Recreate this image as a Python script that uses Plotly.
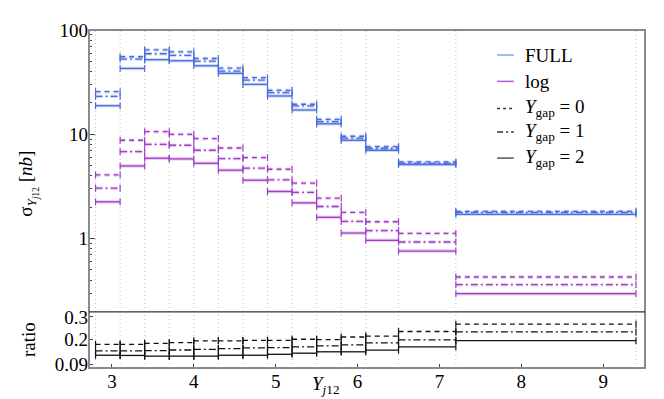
import plotly.graph_objects as go

bin_edges = [2.8, 3.1, 3.4, 3.7, 4.0, 4.3, 4.6, 4.9, 5.2, 5.5, 5.8, 6.1, 6.5, 7.2, 9.4]

full_gap0 = [25.6, 55.4, 64.6, 61.8, 53.3, 43.1, 34.9, 26.4, 19.4, 13.9, 9.58, 7.63, 5.43, 1.82]
full_gap1 = [23.1, 52.6, 59.2, 57.0, 50.2, 40.4, 33.1, 25.1, 18.7, 13.2, 9.17, 7.35, 5.28, 1.78]
full_gap2 = [18.8, 42.8, 51.9, 50.7, 45.4, 38.4, 30.1, 23.3, 17.1, 12.6, 8.76, 7.03, 5.13, 1.71]

log_gap0 = [4.08, 8.77, 10.6, 10.0, 9.1, 7.39, 5.98, 4.62, 3.40, 2.44, 1.78, 1.45, 1.12, 0.428]
log_gap1 = [3.04, 6.83, 8.02, 7.85, 7.03, 5.85, 4.73, 3.66, 2.77, 2.03, 1.46, 1.19, 0.927, 0.361]
log_gap2 = [2.25, 4.97, 5.89, 5.81, 5.27, 4.53, 3.63, 2.83, 2.20, 1.60, 1.13, 0.962, 0.759, 0.296]

ratio_gap0 = [0.180, 0.180, 0.184, 0.187, 0.195, 0.195, 0.197, 0.197, 0.202, 0.200, 0.212, 0.216, 0.236, 0.268]
ratio_gap1 = [0.151, 0.151, 0.152, 0.155, 0.158, 0.161, 0.164, 0.165, 0.169, 0.173, 0.177, 0.186, 0.199, 0.234]
ratio_gap2 = [0.132, 0.131, 0.128, 0.128, 0.128, 0.132, 0.132, 0.136, 0.141, 0.147, 0.147, 0.154, 0.169, 0.196]

x_ticks = [3, 4, 5, 6, 7, 8, 9]

BLUE = '#4a6ddb'
PURPLE = '#a23cc6'
BLACK = '#111111'
DASHES = {0: '5px,4px', 1: '7px,3px,2px,3px', 2: 'solid'}
FONT = 'Liberation Serif, DejaVu Serif, Times New Roman, serif'


def steps(vals):
    xs, ys = [], []
    for lo, hi, v in zip(bin_edges[:-1], bin_edges[1:], vals):
        xs += [lo, hi, None]
        ys += [v, v, None]
    return xs, ys


fig = go.Figure()


def add_hist(vals, color, gap, xa, ya, band=True):
    xs, ys = steps(vals)
    if band:
        fig.add_trace(go.Scatter(x=xs, y=ys, mode='lines', xaxis=xa, yaxis=ya,
                                 line=dict(color=color, width=3.5, dash=DASHES[gap]),
                                 opacity=0.25, showlegend=False, hoverinfo='skip'))
    fig.add_trace(go.Scatter(x=xs, y=ys, mode='lines+markers', xaxis=xa, yaxis=ya,
                             line=dict(color=color, width=1.3, dash=DASHES[gap]),
                             marker=dict(symbol='line-ns', size=5,
                                         line=dict(color=color, width=1.2)),
                             showlegend=False))


for gap, vals in enumerate([full_gap0, full_gap1, full_gap2]):
    add_hist(vals, BLUE, gap, 'x', 'y')
for gap, vals in enumerate([log_gap0, log_gap1, log_gap2]):
    add_hist(vals, PURPLE, gap, 'x', 'y')
for gap, vals in enumerate([ratio_gap0, ratio_gap1, ratio_gap2]):
    add_hist(vals, BLACK, gap, 'x2', 'y2', band=False)

split = 0.166

# dotted lines at the bin edges, through both panels
shapes = [dict(type='line', xref='x', yref='paper', x0=e, x1=e, y0=0, y1=1,
               line=dict(color='#c4c4c4', width=1, dash='1px,3px'), layer='below')
          for e in bin_edges]
shapes.append(dict(type='rect', xref='paper', yref='paper', x0=0, x1=1, y0=0, y1=1,
                   line=dict(color='#8a8a8a', width=2)))
shapes.append(dict(type='line', xref='paper', yref='paper', x0=0, x1=1, y0=split, y1=split,
                   line=dict(color='black', width=1)))

# legend drawn by hand, short sample lines like the original
legend_items = [
    ('FULL', '#8aa0ea', 'solid'),
    ('log', '#b35ad6', 'solid'),
    ('<i>Y</i><sub>gap</sub> = 0', '#333333', '3px,3px'),
    ('<i>Y</i><sub>gap</sub> = 1', '#333333', '6px,3px,2px,3px'),
    ('<i>Y</i><sub>gap</sub> = 2', '#555555', 'solid'),
]
legend_y = [0.926, 0.848, 0.768, 0.698, 0.621]
annotations = []
for (label, col, dash), ly in zip(legend_items, legend_y):
    shapes.append(dict(type='line', xref='paper', yref='paper', x0=0.734, x1=0.764,
                       y0=ly, y1=ly, line=dict(color=col, width=1.5, dash=dash)))
    annotations.append(dict(text=label, xref='paper', yref='paper', x=0.781, y=ly,
                            xanchor='left', yanchor='middle', showarrow=False,
                            font=dict(family=FONT, size=19)))

annotations += [
    dict(text='σ<sub><i>Y</i><sub><i>j</i>12</sub></sub> [<i>nb</i>]', xref='paper', yref='paper',
         x=-0.11, y=0.545, textangle=-90, showarrow=False, xanchor='center', yanchor='middle',
         font=dict(family=FONT, size=19)),
    dict(text='ratio', xref='paper', yref='paper', x=-0.11, y=0.085, textangle=-90,
         showarrow=False, xanchor='center', yanchor='middle', font=dict(family=FONT, size=19)),
    dict(text='<i>Y</i><sub><i>j</i>12</sub>', xref='paper', yref='paper', x=0.426, y=-0.05,
         showarrow=False, xanchor='center', yanchor='middle', font=dict(family=FONT, size=19)),
]

minor_y = [m * 10 ** d for d in (-1, 0, 1) for m in range(2, 10)]

fig.update_layout(
    width=664, height=399,
    margin=dict(l=81, r=27, t=20, b=39),
    plot_bgcolor='white', paper_bgcolor='white',
    font=dict(family=FONT, size=19, color='black'),
    showlegend=False,
    shapes=shapes,
    annotations=annotations,
    xaxis=dict(domain=[0, 1], anchor='y', range=[2.72, 9.51], showticklabels=False,
               ticks='', showgrid=False, zeroline=False, showline=False),
    yaxis=dict(domain=[split, 1], anchor='x', type='log', range=[-0.703, 2],
               tickvals=[1, 10, 100], ticktext=['1', '10', '100'],
               ticks='inside', ticklen=6, tickcolor='#444', showgrid=False,
               zeroline=False, showline=False,
               tickfont=dict(family=FONT, size=19),
               minor=dict(tickvals=minor_y, ticks='inside', ticklen=3, tickcolor='#444',
                          showgrid=False)),
    xaxis2=dict(domain=[0, 1], anchor='y2', matches='x', range=[2.72, 9.51],
                tickvals=x_ticks, ticks='inside', ticklen=4, tickcolor='#444',
                tickfont=dict(family=FONT, size=19),
                showgrid=False, zeroline=False, showline=False),
    yaxis2=dict(domain=[0, split], anchor='x2', range=[0.076, 0.322],
                tickvals=[0.09, 0.2, 0.3], ticktext=['0.09', '0.2', '0.3'],
                tickfont=dict(family=FONT, size=19),
                ticks='inside', ticklen=4, tickcolor='#444', showgrid=False,
                zeroline=False, showline=False),
)

fig.write_html('out.html')
